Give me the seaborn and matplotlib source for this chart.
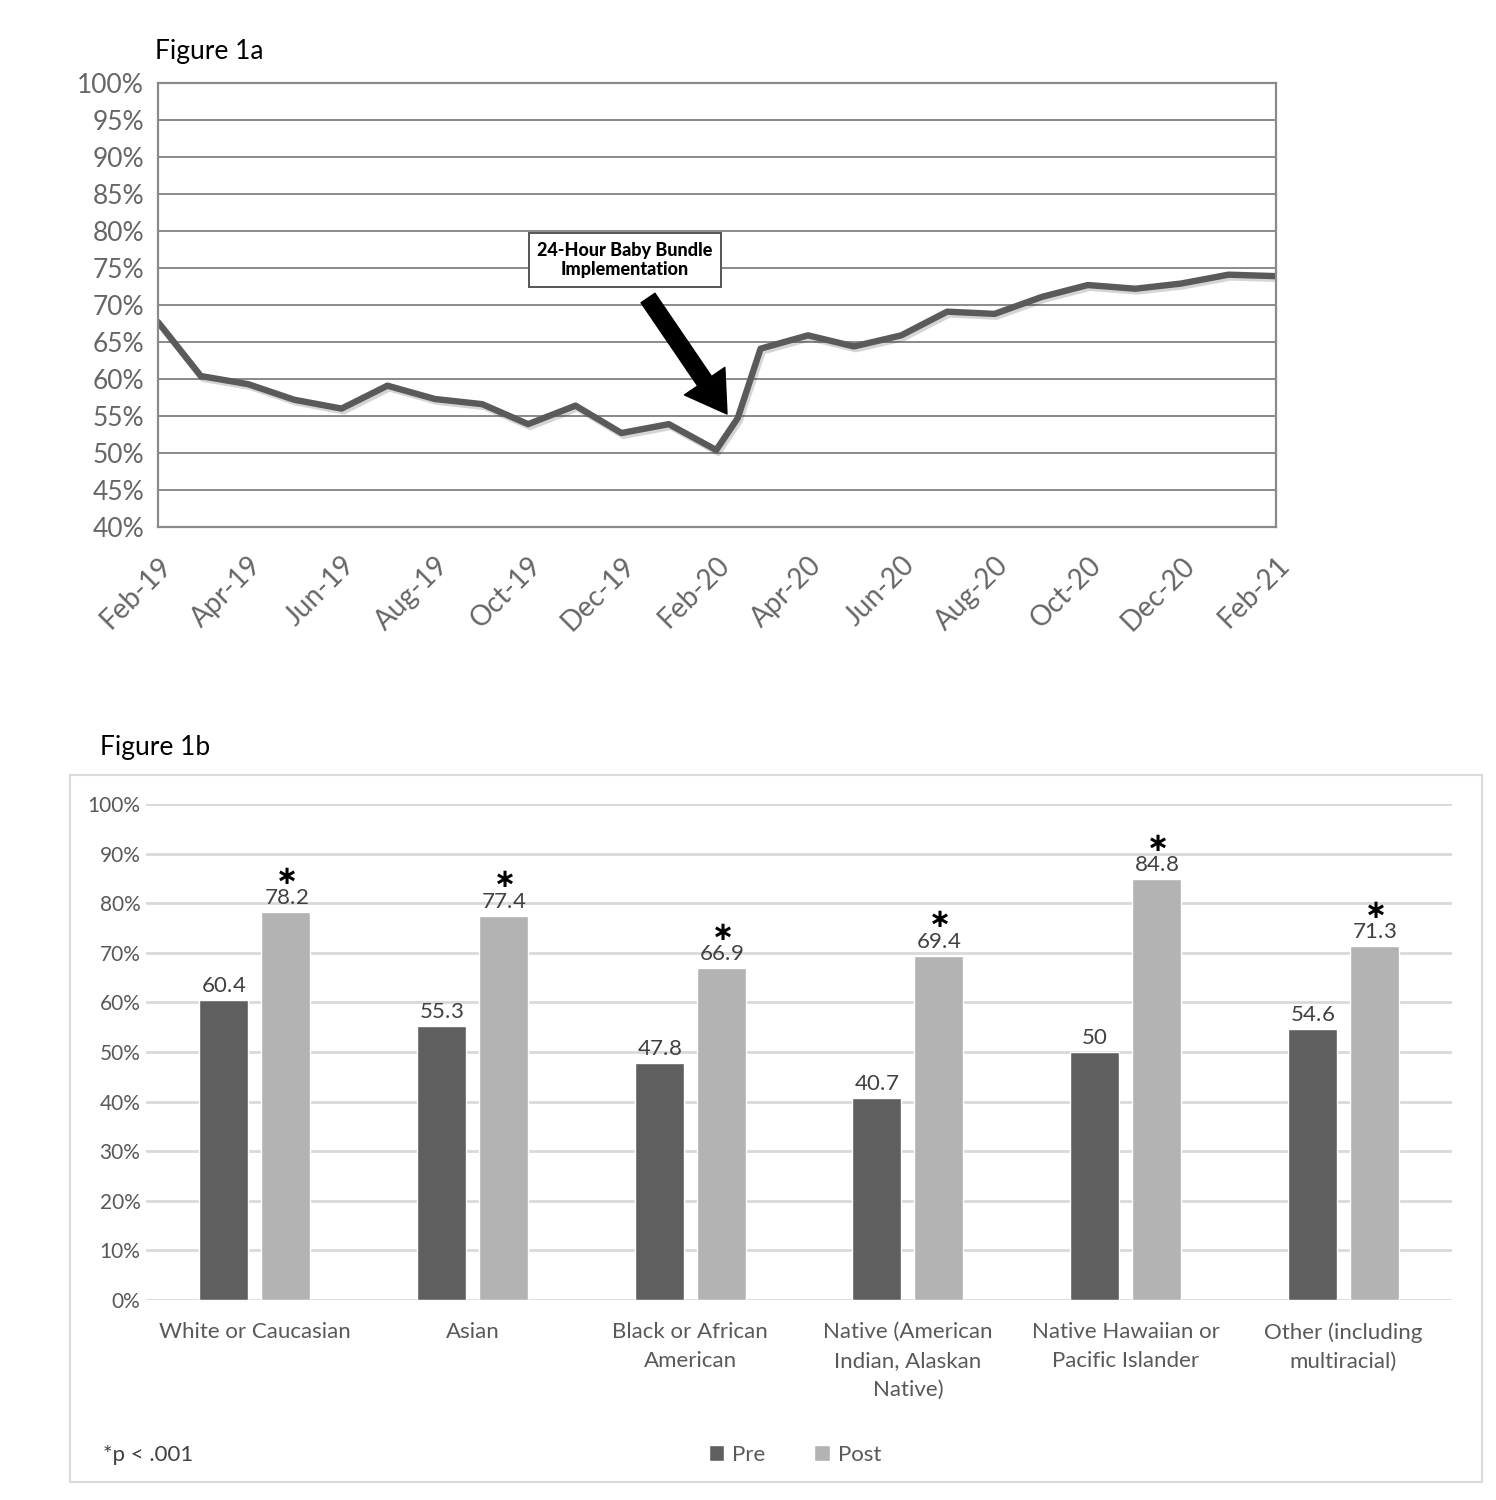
import matplotlib
matplotlib.use("Agg")
import matplotlib.pyplot as plt
import matplotlib.dates as mdates
import matplotlib.patheffects as pe
from matplotlib.patches import Patch, Rectangle
import numpy as np
import pandas as pd
import seaborn as sns

# ---------------- data ----------------
month_dates = ["2019-02-01", "2019-03-01", "2019-04-01", "2019-05-01", "2019-06-01",
               "2019-07-01", "2019-08-01", "2019-09-01", "2019-10-01", "2019-11-01",
               "2019-12-01", "2020-01-01", "2020-02-01", "2020-02-15", "2020-03-01",
               "2020-04-01", "2020-05-01", "2020-06-01", "2020-07-01", "2020-08-01",
               "2020-09-01", "2020-10-01", "2020-11-01", "2020-12-01", "2021-01-01",
               "2021-02-01"]
rate_pct = [67.7, 60.4, 59.3, 57.2, 56.0, 59.1, 57.3, 56.6, 53.9, 56.4,
            52.7, 53.9, 50.4, 54.7, 64.1, 65.9, 64.4, 65.9, 69.1, 68.8,
            71.1, 72.7, 72.2, 72.9, 74.1, 73.9]

races = ["White or Caucasian", "Asian", "Black or African\nAmerican",
         "Native (American\nIndian, Alaskan\nNative)", "Native Hawaiian or\nPacific Islander",
         "Other (including\nmultiracial)"]
pre_vals = [60.4, 55.3, 47.8, 40.7, 50.0, 54.6]
post_vals = [78.2, 77.4, 66.9, 69.4, 84.8, 71.3]
pre_labels = ["60.4", "55.3", "47.8", "40.7", "50", "54.6"]
post_labels = ["78.2", "77.4", "66.9", "69.4", "84.8", "71.3"]
post_signif = [True, True, True, True, True, True]

annotation_text = "24-Hour Baby Bundle\nImplementation"

# ---------------- style ----------------
sns.set_theme(style="white")
plt.rcParams["font.family"] = ["Lato", "DejaVu Sans"]

fig = plt.figure(figsize=(14.96, 15.0), dpi=100)

# ================= Figure 1a =================
ax1 = fig.add_axes([158/1496, 1-527/1500, (1276-158)/1496, 444/1500])
df_line = pd.DataFrame({"date": pd.to_datetime(month_dates), "rate": rate_pct})
sns.lineplot(data=df_line, x="date", y="rate", ax=ax1, color="#5a5a5a", linewidth=4.6,
             path_effects=[pe.SimpleLineShadow(offset=(1.5, -2), alpha=0.18), pe.Normal()])

ax1.set_xlim(pd.Timestamp("2019-02-01"), pd.Timestamp("2021-02-01"))
ax1.set_ylim(40, 100)
ax1.set_yticks(np.arange(40, 101, 5))
ax1.set_yticklabels([f"{v}%" for v in range(40, 101, 5)])
ax1.grid(axis="y", color="#8a8a8a", linewidth=1.4)
ax1.grid(axis="x", visible=False)
ax1.set_axisbelow(True)
for s in ax1.spines.values():
    s.set_color("#8a8a8a")
    s.set_linewidth(1.6)
ax1.xaxis.set_major_locator(mdates.MonthLocator(bymonth=[2, 4, 6, 8, 10, 12]))
ax1.xaxis.set_major_formatter(mdates.DateFormatter("%b-%y"))
ax1.tick_params(axis="both", length=0, colors="#666666")
ax1.tick_params(axis="y", pad=10, labelsize=19)
ax1.tick_params(axis="x", pad=18, labelsize=20)
for lbl in ax1.get_xticklabels():
    lbl.set_rotation(45)
    lbl.set_ha("right")
    lbl.set_va("top")
    lbl.set_rotation_mode("anchor")
ax1.set_xlabel("")
ax1.set_ylabel("")

ax1.text((625-158)/1118, (527-260)/444, annotation_text, transform=ax1.transAxes,
         ha="center", va="center", fontsize=13, fontweight="black", color="black",
         linespacing=1.2,
         bbox=dict(boxstyle="square,pad=0.45", facecolor="white", edgecolor="#555555",
                   linewidth=1.4))
ax1.annotate("", xy=((727-158)/1118, (527-414)/444), xycoords="axes fraction",
             xytext=((648-158)/1118, (527-298)/444), textcoords="axes fraction",
             arrowprops=dict(arrowstyle="simple,head_length=1.3,head_width=1.6,tail_width=0.55",
                             color="black", shrinkA=0, shrinkB=0, mutation_scale=22))

fig.text(155/1496, 1-52/1500, "Figure 1a", ha="left", va="center", fontsize=19, color="black")

# ================= Figure 1b =================
fig.patches.append(Rectangle((70/1496, 1-1482/1500), (1482-70)/1496, (1482-775)/1500,
                             transform=fig.transFigure, fill=False, edgecolor="#d9d9d9",
                             linewidth=1.5, zorder=0))

ax2 = fig.add_axes([146/1496, 1-1300/1500, (1452-146)/1496, 496/1500])
df_bar = pd.DataFrame({
    "race": races * 2,
    "period": ["Pre"] * len(races) + ["Post"] * len(races),
    "value": pre_vals + post_vals,
})
pal = {"Pre": "#5f5f5f", "Post": "#b3b3b3"}
sns.barplot(data=df_bar, x="race", y="value", hue="period", hue_order=["Pre", "Post"],
            order=races, palette=pal, width=0.57, gap=0.21, ax=ax2, legend=False,
            saturation=1, errorbar=None)
ax2.set_xlim(-0.5, len(races) - 0.5)
ax2.set_ylim(0, 100)
ax2.set_yticks(np.arange(0, 101, 10))
ax2.set_yticklabels([f"{v}%" for v in range(0, 101, 10)])
ax2.grid(axis="y", color="#d9d9d9", linewidth=2)
ax2.grid(axis="x", visible=False)
ax2.set_axisbelow(True)
for s in ax2.spines.values():
    s.set_visible(False)
ax2.tick_params(axis="both", length=0, colors="#595959")
ax2.tick_params(axis="y", labelsize=15, pad=4)
ax2.tick_params(axis="x", labelsize=16, pad=16)
for lbl in ax2.get_xticklabels():
    lbl.set_linespacing(1.55)
ax2.set_xlabel("")
ax2.set_ylabel("")

# value labels (mathregular keeps the Lato face but gives a tight text box)
containers = ax2.containers
pre_c, post_c = containers[0], containers[1]
ax2.bar_label(pre_c, labels=[rf"$\mathregular{{{t}}}$" for t in pre_labels],
              padding=3, fontsize=16, color="#404040")
ax2.bar_label(post_c, labels=[rf"$\mathregular{{{t}}}$" for t in post_labels],
              padding=3, fontsize=16, color="#404040")
for bar, sig in zip(post_c, post_signif):
    if sig:
        ax2.annotate(r"$\boldsymbol{\ast}$", xy=(bar.get_x() + bar.get_width() / 2, bar.get_height()),
                     xytext=(0, 17), textcoords="offset points", ha="center",
                     va="bottom", fontsize=19, color="black")

fig.text(100/1496, 1-748/1500, "Figure 1b", ha="left", va="center", fontsize=19, color="black")
fig.text(103/1496, 1-1455/1500, "*p < .001", ha="left", va="center", fontsize=16, color="#404040")

handles = [Patch(facecolor=pal["Pre"], label="Pre"), Patch(facecolor=pal["Post"], label="Post")]
fig.legend(handles=handles, loc="center", bbox_to_anchor=(795/1496, 1-1455/1500), ncol=2,
           frameon=False, fontsize=16, handlelength=0.7, handleheight=0.7,
           handletextpad=0.35, columnspacing=2.2, labelcolor="#595959")

fig.savefig("out.png", dpi=100)
